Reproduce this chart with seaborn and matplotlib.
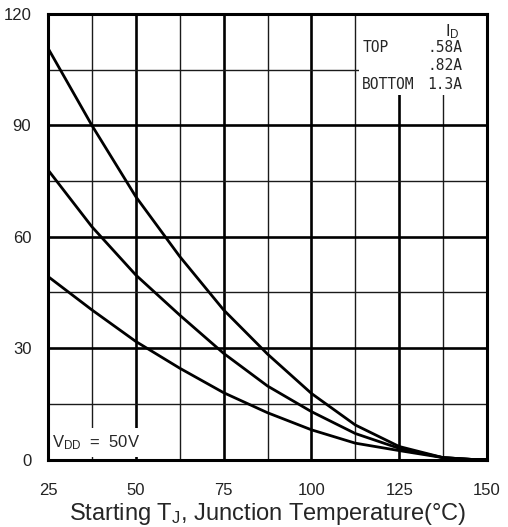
import numpy as np
import pandas as pd
import matplotlib
matplotlib.use("Agg")
import matplotlib.pyplot as plt
import seaborn as sns
from matplotlib.patches import Rectangle

# ---- data ----
temps = [25, 37.5, 50, 62.5, 75, 87.5, 100, 112.5, 125, 137.5, 146, 150]
e_058 = [110.8, 90.0, 70.8, 54.7, 40.3, 28.4, 17.8, 9.3, 3.5, 0.5, 0.0, 0.0]
e_082 = [78.0, 62.7, 49.7, 38.9, 28.6, 19.8, 12.9, 7.0, 3.0, 0.5, 0.0, 0.0]
e_130 = [49.3, 40.3, 31.8, 24.6, 18.0, 12.6, 8.0, 4.4, 2.4, 0.5, 0.0, 0.0]
series_names = [".58A", ".82A", "1.3A"]
x_ticks = [25, 50, 75, 100, 125, 150]
y_ticks = [0, 30, 60, 90, 120]

df = pd.DataFrame({
    "T": temps * 3,
    "E": e_058 + e_082 + e_130,
    "ID": [series_names[0]] * len(temps) + [series_names[1]] * len(temps) + [series_names[2]] * len(temps),
})

sns.set_style("white")
plt.rcParams["font.family"] = ["Liberation Sans", "DejaVu Sans"]
plt.rcParams["mathtext.fontset"] = "custom"
plt.rcParams["mathtext.rm"] = "Liberation Sans"
plt.rcParams["mathtext.it"] = "Liberation Sans"

fig = plt.figure(figsize=(5.08, 5.27), dpi=100)
ax = fig.add_axes([48 / 508, 1 - 459.5 / 527, (487 - 48) / 508, (459.5 - 14) / 527])

# grid
minor_x = [37.5, 62.5, 87.5, 112.5, 137.5]
major_x = [50, 75, 100, 125]
minor_y = [15, 45, 75, 105]
major_y = [30, 60, 90]
for v in minor_x:
    ax.axvline(v, color="#1a1a1a", lw=1.0, zorder=1)
for v in major_x:
    ax.axvline(v, color="#000000", lw=1.9, zorder=1)
for v in minor_y:
    ax.axhline(v, color="#1a1a1a", lw=1.0, zorder=1)
for v in major_y:
    ax.axhline(v, color="#000000", lw=1.9, zorder=1)

# white boxes behind annotations
ax.add_patch(Rectangle((113.6, 98.3), 36.4, 21.7, facecolor="white", edgecolor="none", zorder=2))
ax.add_patch(Rectangle((25, 0.7), 26.4, 7.8, facecolor="white", edgecolor="none", zorder=2))

sns.lineplot(data=df, x="T", y="E", hue="ID", palette=["black"] * 3,
             linewidth=2.0, legend=False, ax=ax, zorder=3)

ax.set_xlim(25, 150)
ax.set_ylim(0, 120)
ax.set_xticks(x_ticks)
ax.set_yticks(y_ticks)
ax.set_xticklabels([str(t) for t in x_ticks], fontsize=12)
ax.set_yticklabels([str(t) for t in y_ticks], fontsize=12)
ax.tick_params(axis="x", length=0, pad=17, colors="#222222")
ax.tick_params(axis="y", length=0, pad=12, colors="#222222")
for s in ax.spines.values():
    s.set_linewidth(2.2)
    s.set_color("black")
    s.set_zorder(5)

ax.set_xlabel("Starting T$_\\mathregular{J}$, Junction Temperature(\u00b0C)", fontsize=17, labelpad=2)
ax.set_ylabel("")

mono = ["DejaVu Sans Mono"]
ax.text(138.0, 115.2, "I$_\\mathregular{D}$", fontsize=12, ha="left", va="center", zorder=6)
ax.text(114.5, 110.9, "TOP", family=mono, fontsize=10.5, ha="left", va="center", zorder=6)
ax.text(143.0, 110.9, ".58A", family=mono, fontsize=10.5, ha="right", va="center", zorder=6)
ax.text(143.0, 106.0, ".82A", family=mono, fontsize=10.5, ha="right", va="center", zorder=6)
ax.text(114.5, 101.1, "BOTTOM", family=mono, fontsize=10.5, ha="left", va="center", zorder=6)
ax.text(143.0, 101.1, "1.3A", family=mono, fontsize=10.5, ha="right", va="center", zorder=6)

ax.text(26.0, 4.6, "V$_\\mathregular{DD}$  =  50V", fontsize=12, ha="left", va="center", zorder=6)

fig.savefig("out.png", dpi=100)
